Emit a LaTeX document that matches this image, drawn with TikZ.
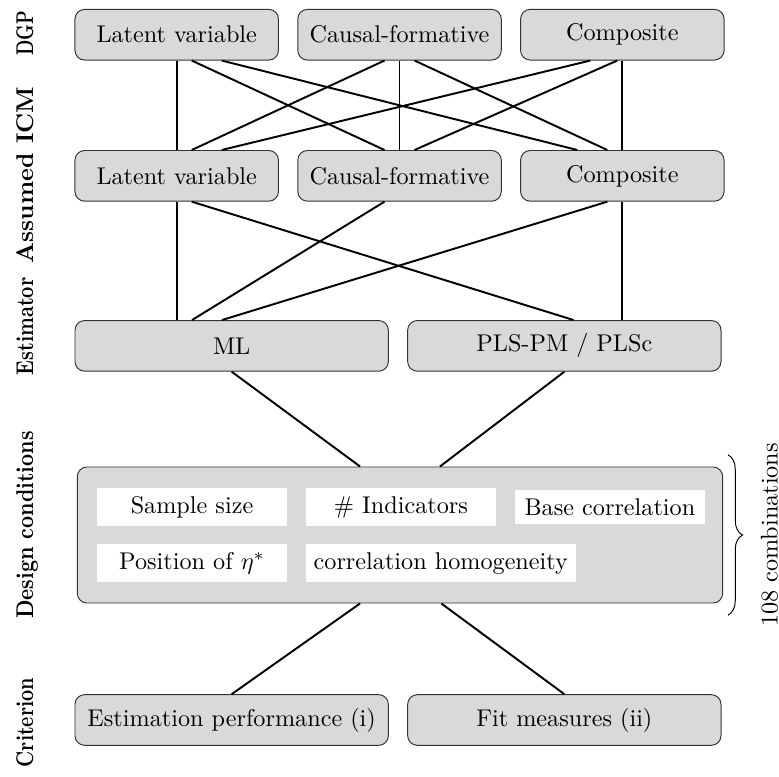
\documentclass[tikz,border=0pt]{standalone}
\usetikzlibrary{positioning,decorations.pathreplacing}
\begin{document}
\begin{tikzpicture}[
	box/.style={draw=black!80,rounded corners=4pt,fill=gray!30,minimum width=2.955cm,minimum height=0.736cm},
	widebox/.style={box,minimum width=4.55cm},
	cond/.style={fill=white,minimum width=2.77cm},
	link/.style={thick},
	rowlabel/.style={rotate=90,anchor=base,font=\bfseries},
	node distance=0.266cm]
	\useasboundingbox (0,0) rectangle (11.311,-11.268);
	\node[box] (lv1) at (2.566,-0.504) {Latent variable};
	\node[box,right=of lv1] (cf1) {Causal-formative};
	\node[box,right=of cf1] (co1) {Composite};
	\node[box] (lv2) at (2.566,-2.553) {Latent variable};
	\node[box,right=of lv2] (cf2) {Causal-formative};
	\node[box,right=of cf2] (co2) {Composite};
	\node[widebox] (ml) at (3.364,-5.022) {ML};
	\node[widebox,right=of ml] (pls) {PLS-PM / PLSc};
	\node[box,minimum width=9.371cm,minimum height=1.975cm] (design) at (5.808,-7.768) {};
	\node[cond] (ss) at (2.788,-7.362) {Sample size};
	\node[cond,right=0.25cm of ss] (ind) {\# Indicators};
	\node[cond,right=0.25cm of ind] (base) {Base correlation};
	\node[cond,below=0.25cm of ss] (pos) {Position of $\eta^*$};
	\node[fill=white,right=0.25cm of pos] (hom) {correlation homogeneity};
	\node[widebox] (est) at (3.364,-10.454) {Estimation performance (i)};
	\node[widebox,right=of est] (fit) {Fit measures (ii)};
	\node[rowlabel] (dgp) at (0.48,-0.479) {\scalebox{0.72}[1]{DGP}};
	\node[rowlabel] (icm) at (0.48,-2.541) {Assumed ICM};
	\node[rowlabel] (estim) at (0.48,-4.741) {\scalebox{0.81}[1]{Estimator}};
	\node[rowlabel] (dc) at (0.48,-7.623) {\scalebox{0.87}[1]{Design conditions}};
	\node[rowlabel] (crit) at (0.48,-10.492) {\scalebox{0.8}[1]{Criterion}};
	\draw[link] (lv1) -- (lv2);
	\draw[link] ([xshift=0.218cm]lv1.south) -- ([xshift=-0.218cm]cf2.north);
	\draw[link] ([xshift=0.653cm]lv1.south) -- ([xshift=-0.653cm]co2.north);
	\draw[link] ([xshift=-0.218cm]cf1.south) -- ([xshift=0.218cm]lv2.north);
	\draw[link] (cf1) -- (cf2);
	\draw[link] ([xshift=0.218cm]cf1.south) -- ([xshift=-0.218cm]co2.north);
	\draw[link] ([xshift=-0.465cm]co1.south) -- ([xshift=0.653cm]lv2.north);
	\draw[link] ([xshift=-0.073cm]co1.south) -- ([xshift=0.218cm]cf2.north);
	\draw[link] (co1) -- (co2);
	\draw[link] (lv2.south) -- (lv2.south |- ml.north);
	\draw[link] ([xshift=0.218cm]lv2.south) -- ([xshift=0.135cm]pls.north);
	\draw[link] ([xshift=-0.218cm]cf2.south) -- ([xshift=-0.576cm]ml.north);
	\draw[link] ([xshift=-0.218cm]co2.south) -- ([xshift=-0.141cm]ml.north);
	\draw[link] (co2.south) -- (co2.south |- pls.north);
	\draw[link] (ml.south) -- ([xshift=-0.58cm]design.north);
	\draw[link] (pls.south) -- ([xshift=0.58cm]design.north);
	\draw[link] ([xshift=-0.58cm]design.south) -- (est.north);
	\draw[link] ([xshift=0.6cm]design.south) -- (fit.north);
	\draw[decorate,decoration={brace,amplitude=6pt}] ([xshift=0.07cm,yshift=0.17cm]design.north east) -- ([xshift=0.07cm,yshift=-0.17cm]design.south east);
	\node[rotate=90,anchor=base] (comb) at ([xshift=0.79cm]design.east) {108 combinations};
\end{tikzpicture}
\end{document}
